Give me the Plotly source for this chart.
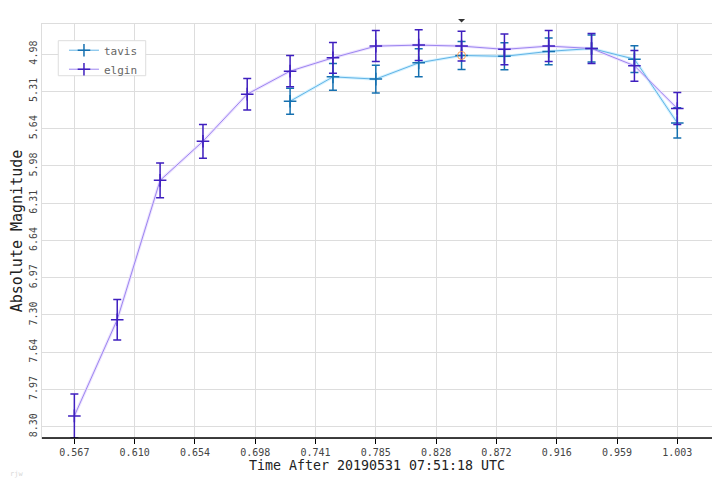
import plotly.graph_objects as go

# ---- data ----
elgin_t = [0.567, 0.598, 0.629, 0.660, 0.692, 0.723, 0.754, 0.785, 0.816, 0.847, 0.878, 0.910, 0.941, 0.972, 1.003]
elgin_mag = [8.203, 7.346, 6.105, 5.757, 5.337, 5.132, 5.013, 4.909, 4.900, 4.909, 4.938, 4.909, 4.930, 5.084, 5.465]
elgin_err = [0.196, 0.180, 0.155, 0.150, 0.140, 0.140, 0.137, 0.138, 0.137, 0.132, 0.138, 0.138, 0.134, 0.137, 0.143]

tavis_t = [0.723, 0.754, 0.785, 0.816, 0.847, 0.878, 0.910, 0.941, 0.972, 1.003]
tavis_mag = [5.400, 5.183, 5.203, 5.058, 4.992, 5.000, 4.956, 4.930, 5.025, 5.593]
tavis_err = [0.116, 0.120, 0.124, 0.125, 0.125, 0.120, 0.120, 0.120, 0.120, 0.135]

x_tickvals = [0.567, 0.6106, 0.6542, 0.6978, 0.7414, 0.785, 0.8286, 0.8722, 0.9158, 0.9594, 1.003]
x_ticktext = ["0.567", "0.610", "0.654", "0.698", "0.741", "0.785", "0.828", "0.872", "0.916", "0.959", "1.003"]
y_tickvals = [4.98, 5.312, 5.644, 5.976, 6.308, 6.64, 6.972, 7.304, 7.636, 7.968, 8.30]
y_ticktext = ["4.98", "5.31", "5.64", "5.98", "6.31", "6.64", "6.97", "7.30", "7.64", "7.97", "8.30"]

x_range = [0.5436, 1.0281]
y_range = [8.40, 4.712]

hover_idx = 4  # highlighted tavis point

FONT = "DejaVu Sans Mono"
series = [
    ("tavis", tavis_t, tavis_mag, tavis_err, "#62b4e6", "#1570b0", "rgba(200,238,255,0.8)"),
    ("elgin", elgin_t, elgin_mag, elgin_err, "#9c86f0", "#3f1fbf", "rgba(232,220,255,0.8)"),
]

fig = go.Figure()
# halos
for name, t, m, e, lc, ec, hc in series:
    fig.add_trace(go.Scatter(x=t, y=m, mode="lines", line=dict(color=hc, width=3),
                             showlegend=False, hoverinfo="skip"))
for name, t, m, e, lc, ec, hc in series:
    fig.add_trace(go.Scatter(
        x=t, y=m, name=name, mode="lines+markers",
        line=dict(color=lc, width=1),
        marker=dict(symbol="cross-thin", size=9, line=dict(color=ec, width=1.5), color=ec),
        error_y=dict(type="data", array=e, visible=True, color=ec, thickness=1.5, width=4),
    ))

fig.add_trace(go.Scatter(
    x=[tavis_t[hover_idx]], y=[tavis_mag[hover_idx]], mode="markers",
    marker=dict(symbol="circle-open", size=8, line=dict(color="#333", width=1)),
    showlegend=False, hoverinfo="skip"))

# crosshair indicator triangles (positions of the highlighted point, as fractions of the plot area)
hx = (tavis_t[hover_idx] - x_range[0]) / (x_range[1] - x_range[0])
hy = (y_range[0] - tavis_mag[hover_idx]) / (y_range[0] - y_range[1])
fig.add_shape(type="path", xref="paper", yref="paper", xsizemode="pixel", ysizemode="pixel",
              xanchor=hx, yanchor=1,
              path="M -3.5,5 L 3.5,5 L 0,1.5 Z", fillcolor="#333", line=dict(width=0))
fig.add_annotation(x=1, xref="paper", xanchor="left", y=hy, yref="paper", yanchor="middle",
                   text="◀", showarrow=False, borderpad=0, xshift=0,
                   font=dict(size=9, color="#222", family="DejaVu Sans"))

# legend box
fig.add_shape(type="rect", xref="paper", yref="paper", x0=0.0243, x1=0.1548, y0=0.8751, y1=0.9597,
              fillcolor="white", line=dict(color="#dddddd", width=1), layer="above")

fig.add_annotation(x=0.0, xref="paper", xanchor="left", y=0, yref="paper", yanchor="top",
                   xshift=-34, yshift=-30,
                   text="rjw", showarrow=False, font=dict(size=7, color="#d8d8d8", family=FONT))

fig.add_shape(type="line", xref="paper", yref="paper", x0=0, x1=1, y0=0, y1=0,
              line=dict(color="black", width=1.5))

# page body has an 8px margin: size/margins compensate so the plot lands where the reference has it
fig.update_layout(
    width=712, height=472,
    margin=dict(l=34, r=8, t=16, b=42, autoexpand=False),
    paper_bgcolor="white", plot_bgcolor="white",
    font=dict(family=FONT, color="#333", size=10),
    legend=dict(x=0.0328, y=0.9717, xanchor="left", yanchor="top",
                borderwidth=0, bgcolor="rgba(0,0,0,0)",
                font=dict(size=11, color="#666", family=FONT), tracegroupgap=0),
    xaxis=dict(range=x_range, tickvals=x_tickvals, ticktext=x_ticktext,
               showgrid=True, gridcolor="#dddddd", gridwidth=1, zeroline=False,
               showline=True, linecolor="#dddddd", mirror=True, automargin=False,
               ticks="outside", ticklen=5, tickcolor="black",
               tickfont=dict(size=10, color="#444"),
               title=dict(text="Time After 20190531 07:51:18 UTC", font=dict(size=13.3, color="#222"), standoff=2)),
    yaxis=dict(range=y_range, tickvals=y_tickvals, ticktext=y_ticktext,
               tickangle=-90, showgrid=True, gridcolor="#dddddd", gridwidth=1, zeroline=False,
               showline=True, linecolor="#dddddd", mirror=True, ticks="", automargin=False,
               tickfont=dict(size=10, color="#444"),
               title=dict(text="Absolute Magnitude", font=dict(size=15, color="#222"), standoff=2)),
)

fig.write_html("out.html")
